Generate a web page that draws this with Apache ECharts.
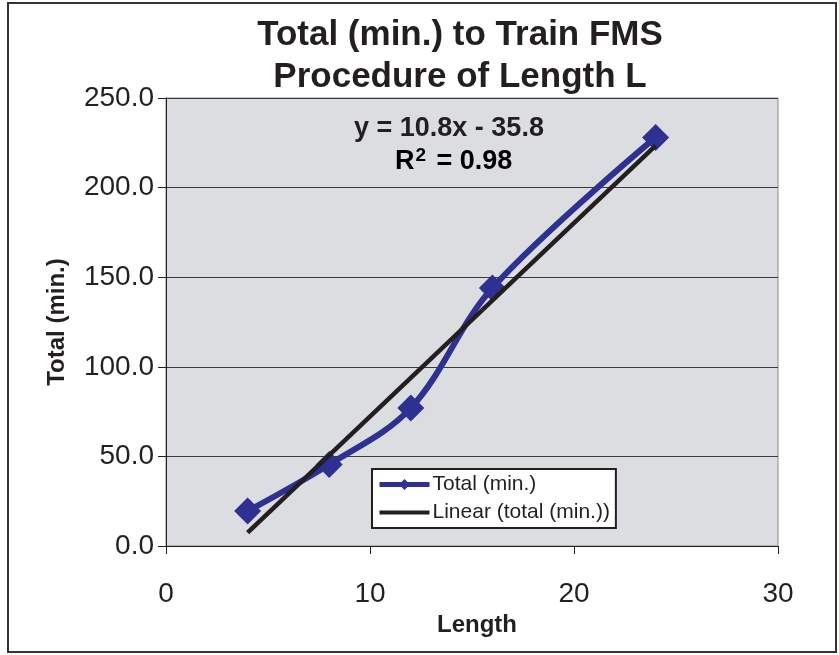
<!DOCTYPE html>
<html>
<head>
<meta charset="utf-8">
<script src="https://cdn.jsdelivr.net/npm/echarts@6/dist/echarts.min.js"></script>
<style>
html,body{margin:0;padding:0;background:#fff;}
#c{width:839px;height:655px;}
</style>
</head>
<body>
<div id="c"></div>
<script>
var lengths = [4, 8, 12, 16, 24];
var totals = [19.5, 45.5, 77, 144, 228];
var trendX = [4, 24];
var slope = 10.8, intercept = -35.8;

var chart = echarts.init(document.getElementById('c'));
var font = '"Liberation Sans", Arial, Helvetica, sans-serif';
var ink = '#231f20';

chart.setOption({
  backgroundColor: '#fff',
  animation: false,
  title: {
    text: 'Total (min.) to Train FMS\nProcedure of Length L',
    left: 455, top: 9, textAlign: 'center',
    textStyle: {fontFamily: font, fontWeight: 'bold', fontSize: 35, lineHeight: 42, color: ink}
  },
  grid: {left: 166, right: 61, top: 98, bottom: 109, show: true, backgroundColor: '#dcdde0', borderColor: '#8a8a8a', borderWidth: 1},
  legend: {
    orient: 'vertical', left: 372, top: 469,
    backgroundColor: '#fff', borderColor: ink, borderWidth: 2,
    padding: [5, 6, 5, 5], itemGap: 7, itemWidth: 50, itemHeight: 14,
    textStyle: {fontFamily: font, fontSize: 21, color: ink, padding: [0, 0, 0, -2]},
    lineStyle: {width: 5},
    data: [
      {name: 'Total (min.)'},
      {name: 'Linear (total (min.))', icon: 'path://M0,0L0.01,0L0.01,0.01Z M0,5L50,5L50,9L0,9Z M50,14L49.99,14L49.99,13.99Z'}
    ]
  },
  xAxis: {
    type: 'value', min: 0, max: 30, interval: 10,
    name: 'Length', nameLocation: 'middle', nameGap: 61,
    nameTextStyle: {fontFamily: font, fontWeight: 'bold', fontSize: 24, color: ink, padding: [0, 0, 0, 10]},
    axisLine: {lineStyle: {color: ink, width: 1}},
    axisTick: {show: true, length: 8, lineStyle: {color: ink}},
    axisLabel: {fontFamily: font, fontSize: 28, color: ink, margin: 34},
    splitLine: {show: false}
  },
  yAxis: {
    type: 'value', min: 0, max: 250, interval: 50,
    name: 'Total (min.)', nameLocation: 'middle', nameGap: 97,
    nameTextStyle: {fontFamily: font, fontWeight: 'bold', fontSize: 24, color: ink},
    axisLine: {show: true, lineStyle: {color: ink, width: 1}},
    axisTick: {show: true, length: 8, lineStyle: {color: ink}},
    axisLabel: {fontFamily: font, fontSize: 28, color: ink, margin: 12,
      formatter: function (v) { return v.toFixed(1); }},
    splitLine: {show: true, lineStyle: {color: '#3a3a3a', width: 1}}
  },
  series: [
    {
      name: 'Total (min.)', type: 'line', smooth: 0.35,
      data: lengths.map(function (x, i) { return [x, totals[i]]; }),
      symbol: 'diamond', symbolSize: 27,
      itemStyle: {color: '#2e3192'},
      lineStyle: {color: '#2e3192', width: 6},
      z: 2
    },
    {
      name: 'Linear (total (min.))', type: 'line',
      data: trendX.map(function (x) { return [x, slope * x + intercept]; }),
      symbol: 'none',
      itemStyle: {color: ink},
      lineStyle: {color: ink, width: 4.5},
      z: 3
    }
  ],
  graphic: [
    {type: 'rect', shape: {x: 8, y: 3, width: 828, height: 649}, style: {fill: 'none', stroke: '#333', lineWidth: 2}, silent: true},
    {type: 'text', left: 354, top: 115, style: {text: 'y = 10.8x - 35.8', font: 'bold 27px ' + font, fill: ink}},
    {type: 'text', left: 395, top: 146, style: {
      text: '{a|R}{s|2}{a| = 0.98}',
      rich: {a: {fontFamily: font, fontWeight: 'bold', fontSize: 27, color: ink, verticalAlign: 'bottom'},
             s: {fontFamily: font, fontWeight: 'bold', fontSize: 19, color: ink, verticalAlign: 'top', padding: [0, 3, 10, 1]}}
    }}
  ]
});
</script>
</body>
</html>
